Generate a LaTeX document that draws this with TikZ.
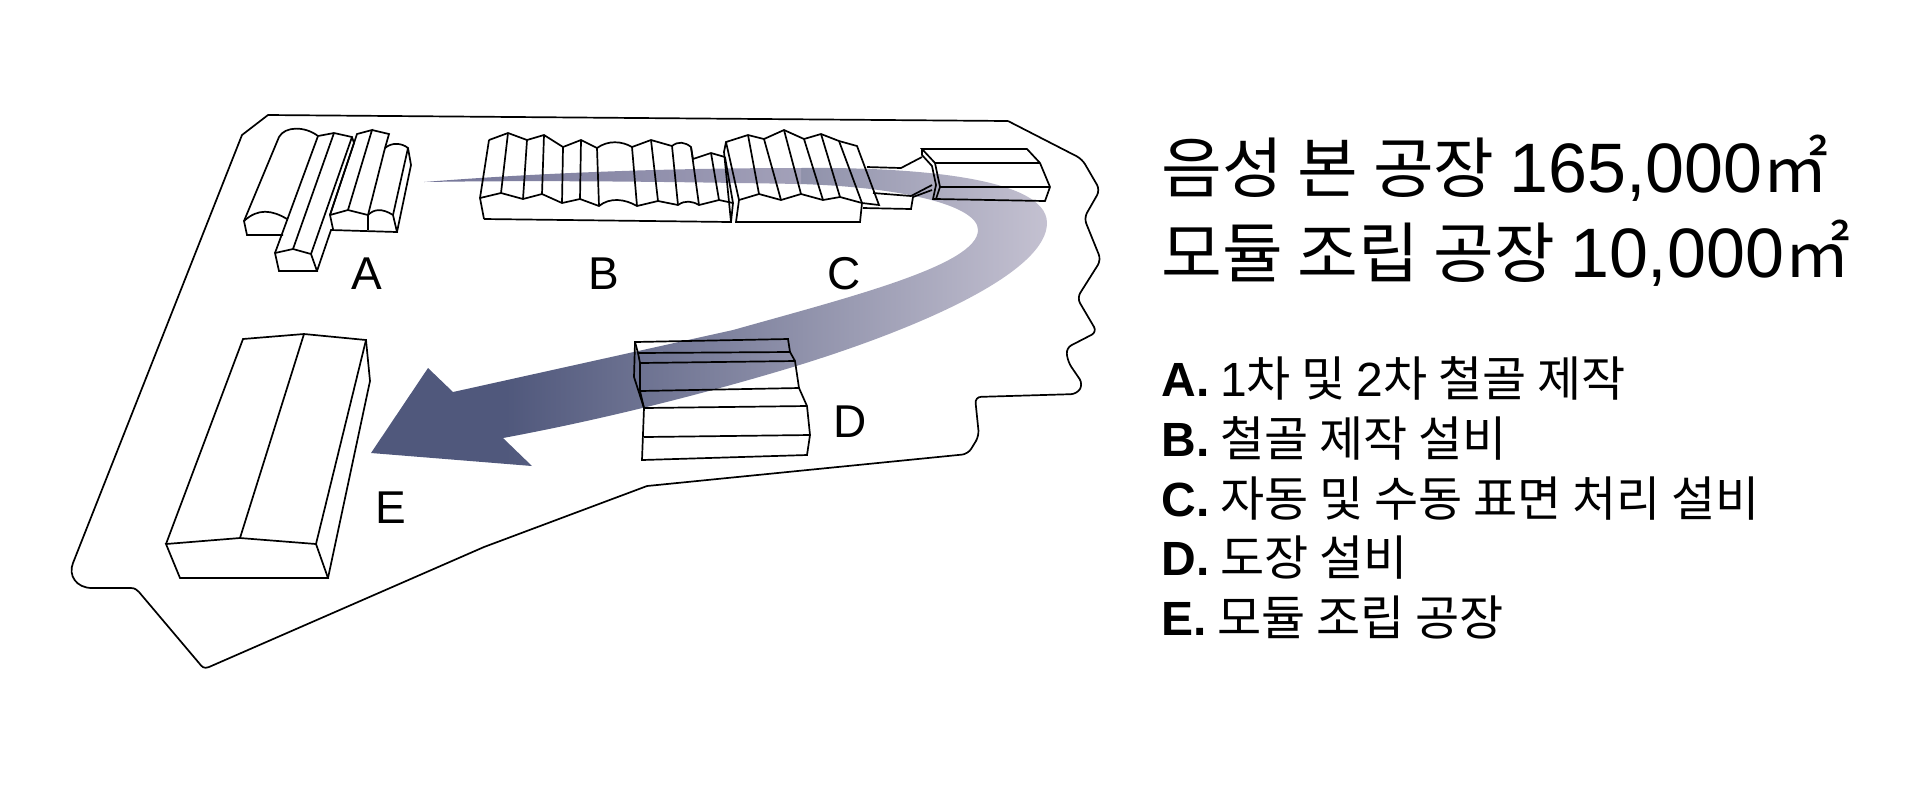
\documentclass[tikz,border=0pt]{standalone}
\usepackage{fontspec}
\setmainfont{Noto Sans CJK KR}
\newfontfamily\sitelatin{Liberation Sans}
\usepackage{xcolor}
\usepackage{tikz}
\definecolor{sitedark}{HTML}{50587C}
\definecolor{sitelight}{HTML}{C4C1D1}
\definecolor{sitemid}{HTML}{747598}
\definecolor{sitemidb}{HTML}{A3A1B9}
\pgfdeclarehorizontalshading{sitefade}{100bp}{color(0bp)=(sitedark); color(35bp)=(sitedark); color(75bp)=(sitelight); color(100bp)=(sitelight)}
\newcommand{\lat}[1]{{\sitelatin #1}}
\newcommand{\latb}[1]{{\sitelatin\bfseries #1}}
\newcommand{\latbig}[1]{{\sitelatin\fontsize{35}{38}\selectfont #1}}
\tikzset{
  siteline/.style={draw=black, line width=0.85pt, line join=miter},
  siteletter/.style={font=\sitelatin\fontsize{23}{26}\selectfont, inner sep=0pt},
  sitetitle/.style={font=\fontsize{33}{38}\selectfont, anchor=base west, inner sep=0pt},
  sitelist/.style={font=\fontsize{24}{28}\selectfont, anchor=base west, inner sep=0pt}
}
\begin{document}
\begin{tikzpicture}[x=0.5pt, y=-0.5pt]
  \useasboundingbox (0,0) rectangle (1920,784);
  % sweep arrow first, buildings stay unfilled above it
  \shade[shading=sitefade] (800,168) .. controls (900,167) and (1047,175) .. (1047,223)
    .. controls (1047,270) and (930,325) .. (793,367) .. controls (700,395) and (600,420) .. (503,438)
    -- (532,466) -- (371,453)
    -- (428,368) -- (453,392) -- (733,330) .. controls (850,297) and (978,265) .. (978,230)
    .. controls (978,205) and (900,187) .. (800,184) -- cycle;
  \shade[left color=sitemid, right color=sitemidb] (424,182) .. controls (550,172) and (680,168) .. (801,168)
    -- (801,184) .. controls (680,182) and (550,180) .. (424,182) -- cycle;
  % site outline
  \draw[siteline] (1008,121) -- (268,115) -- (242,135) -- (73,563) .. controls (68,575) and (76,588) .. (92,588)
    -- (131,588) .. controls (135,588) and (137,590) .. (139,592) -- (199,663)
    .. controls (202,667) and (204,669) .. (209,667) -- (484,547) -- (647,486);
  \draw[siteline, rounded corners=3pt] (1008,121) -- (1082,159) -- (1100,190) -- (1084,218) -- (1101,260)
    -- (1077,298) -- (1097,332) -- (1066,348) -- (1068,362) -- (1083,384) -- (1077,394) -- (975,397)
    -- (979,436) -- (968,454) -- (647,486);
  % building A
  \draw[siteline] (283,235) -- (247,235) -- (244,221) .. controls (258,208) and (272,210) .. (287,219);
  \draw[siteline] (244,221) -- (279,137) .. controls (285,126) and (305,126) .. (318,136);
  \draw[siteline] (275,253) -- (293,249) -- (311,254) -- (317,271) -- (279,271) -- cycle;
  \draw[siteline] (275,253) -- (318,136) -- (334,133) -- (352,137) -- (311,254);
  \draw[siteline] (293,249) -- (334,133);
  \draw[siteline] (317,271) -- (331,230) -- (397,232) -- (393,215) .. controls (382,208) and (374,209) .. (368,215)
    -- (348,210) -- (330,215) -- (333,229);
  \draw[siteline] (352,137) -- (354,143) -- (330,215);
  \draw[siteline] (348,210) -- (372,130) -- (357,134) -- (330,215);
  \draw[siteline] (372,130) -- (389,134) -- (385,148) -- (368,215) -- (368,230);
  \draw[siteline] (385,148) .. controls (392,142) and (402,143) .. (408,148) -- (393,215);
  \draw[siteline] (408,148) -- (411,165) -- (397,232);
  % building B
  \draw[siteline] (489,140) -- (508,133) -- (527,140) -- (544,135) -- (563,147) -- (581,140) -- (597,148)
    .. controls (608,140) and (622,141) .. (632,147) -- (651,140) -- (672,146)
    .. controls (678,141) and (685,142) .. (691,147) -- (693,159) -- (711,153) -- (725,157);
  \draw[siteline] (484,219) -- (480,198) -- (501,193) -- (523,199) -- (542,194) -- (562,203) -- (580,199) -- (599,206)
    .. controls (610,197) and (625,199) .. (637,206) -- (658,201) -- (678,205)
    .. controls (685,200) and (692,201) .. (699,205) -- (719,200) -- (733,203);
  \draw[siteline] (484,219) -- (731,222) -- (733,203);
  \foreach \xa/\ya/\xb/\yb in {489/140/480/198, 508/133/501/193, 527/140/523/199, 544/135/542/194,
    563/147/562/203, 581/140/580/199, 597/148/599/206, 632/147/637/206, 651/140/658/201,
    672/146/678/205, 691/147/699/205, 711/153/719/200, 725/157/733/203}
    \draw[siteline] (\xa,\ya) -- (\xb,\yb);
  % building C
  \draw[siteline] (731,222) -- (724,152) -- (726,142) -- (748,135) -- (764,139) -- (784,130) -- (804,139)
    -- (821,134) -- (839,141) -- (857,146) -- (879,205) -- (862,203) -- (840,197) -- (823,200)
    -- (801,194) -- (781,200) -- (759,194) -- (739,200) -- (726,142);
  \draw[siteline] (739,200) -- (736,222) -- (860,222) -- (862,203);
  \foreach \xa/\ya/\xb/\yb in {748/135/759/194, 764/139/781/200, 784/130/801/194, 804/139/823/200,
    821/134/840/197, 839/141/862/203}
    \draw[siteline] (\xa,\ya) -- (\xb,\yb);
  % link and end block
  \draw[siteline] (867,167) -- (901,168) -- (922,157);
  \draw[siteline] (873,193) -- (911,196) -- (932,185);
  \draw[siteline] (863,208) -- (911,209) -- (913,197) -- (932,190);
  \draw[siteline] (922,149) -- (1027,149) -- (1040,163) -- (1050,187) -- (1045,201) -- (936,199) -- (940,187) -- (935,163) -- cycle;
  \draw[siteline] (935,163) -- (1040,163);
  \draw[siteline] (940,187) -- (1050,187);
  \draw[siteline] (922,149) -- (922,155) -- (932,166) -- (936,185) -- (933,199) -- (936,199);
  % building D
  \draw[siteline] (635,342) -- (788,339) -- (790,352) -- (795,361) -- (799,388) -- (807,406) -- (810,435)
    -- (807,455) -- (642,460) -- (644,408) -- (634,377) -- cycle;
  \draw[siteline] (635,342) -- (638,353) -- (640,363) -- (640,391) -- (644,408);
  \draw[siteline] (638,353) -- (790,352);
  \draw[siteline] (640,363) -- (795,361);
  \draw[siteline] (640,391) -- (799,388);
  \draw[siteline] (644,408) -- (807,406);
  \draw[siteline] (644,437) -- (810,435);
  % building E
  \draw[siteline] (166,544) -- (240,538) -- (316,544) -- (328,578) -- (180,578) -- cycle;
  \draw[siteline] (166,544) -- (243,339) -- (304,334) -- (366,340) -- (370,381) -- (328,578);
  \draw[siteline] (240,538) -- (304,334);
  \draw[siteline] (316,544) -- (366,340);
  % letters
  \node[siteletter] (labela) at (367,274) {A};
  \node[siteletter] (labelb) at (604,274) {B};
  \node[siteletter] (labelc) at (844,274) {C};
  \node[siteletter] (labeld) at (850,422) {D};
  \node[siteletter] (labele) at (391,508) {E};
  % text
  \node[sitetitle] (titlea) at (1161,192) {음성 본 공장 \latbig{165,000}㎡};
  \node[sitetitle] (titleb) at (1161,277) {모듈 조립 공장 \latbig{10,000}㎡};
  \node[sitelist] (lista) at (1161,396) {\latb{A.} \lat{1}차 및 \lat{2}차 철골 제작};
  \node[sitelist] (listb) at (1161,456) {\latb{B.} 철골 제작 설비};
  \node[sitelist] (listc) at (1161,516) {\latb{C.} 자동 및 수동 표면 처리 설비};
  \node[sitelist] (listd) at (1161,575) {\latb{D.} 도장 설비};
  \node[sitelist] (liste) at (1161,635) {\latb{E.} 모듈 조립 공장};
\end{tikzpicture}
\end{document}
